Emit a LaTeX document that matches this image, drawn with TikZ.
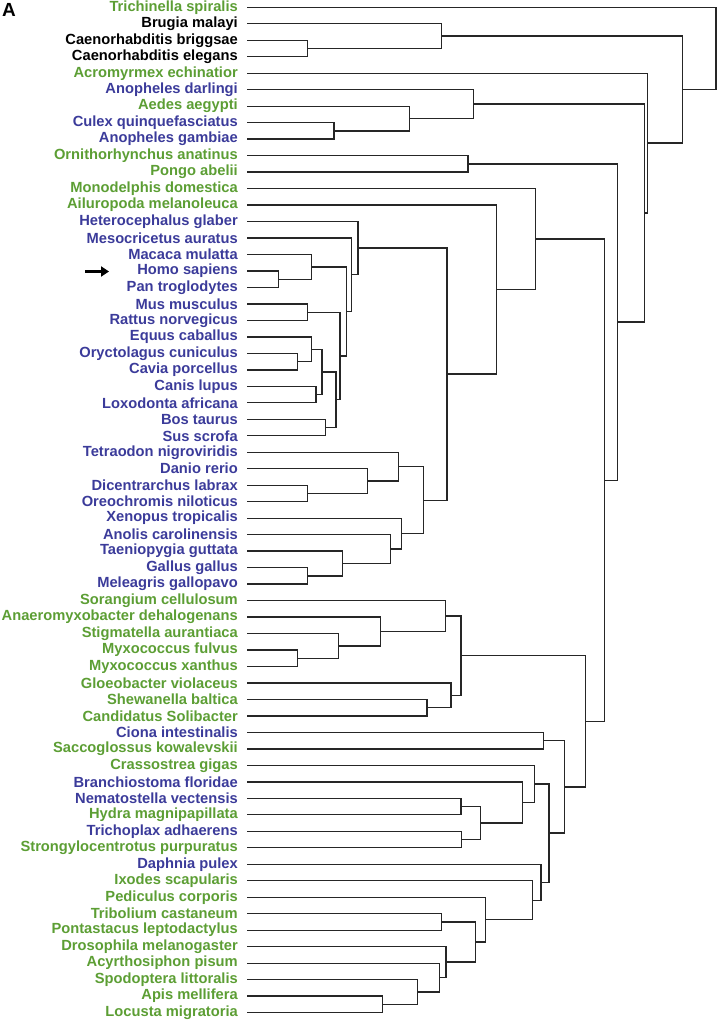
\documentclass[tikz,border=0pt]{standalone}
\usepackage{fontspec}
\setmainfont{Liberation Sans}
\usetikzlibrary{calc,arrows.meta}
\definecolor{tgreen}{RGB}{92,158,52}
\definecolor{tblue}{RGB}{59,59,154}
\begin{document}
\begin{tikzpicture}[x=1pt,y=-1pt,
  br/.style={draw=black!85,line width=1.3pt,line cap=rect},
  lab/.style={anchor=east,inner sep=0pt,font=\fontsize{14.7}{16}\selectfont\bfseries},
  G/.style={lab,text=tgreen},
  B/.style={lab,text=tblue},
  K/.style={lab,text=black}]
\useasboundingbox (0,0) rectangle (718,1022);
\newcommand\jn[4]{%
  \path let \p1=($(#3)!0.5!(#4)$) in coordinate (#1) at (#2pt,\y1);
  \draw[br] (#3) -| (#1) |- (#4);}
\newcommand\leaf[3]{%
  \coordinate (L#1) at (248,{7.3+16.48*(#1-1)});
  \node[#2] (T#1) at (238,{7.3+16.48*(#1-1)}) {#3};}
\node[font=\fontsize{19}{20}\selectfont\bfseries,anchor=north west,inner sep=0pt] (lblA) at (2,3) {A};
\leaf{1}{G}{Trichinella spiralis}
\leaf{2}{K}{Brugia malayi}
\leaf{3}{K}{Caenorhabditis briggsae}
\leaf{4}{K}{Caenorhabditis elegans}
\leaf{5}{G}{Acromyrmex echinatior}
\leaf{6}{B}{Anopheles darlingi}
\leaf{7}{G}{Aedes aegypti}
\leaf{8}{B}{Culex quinquefasciatus}
\leaf{9}{B}{Anopheles gambiae}
\leaf{10}{G}{Ornithorhynchus anatinus}
\leaf{11}{G}{Pongo abelii}
\leaf{12}{G}{Monodelphis domestica}
\leaf{13}{G}{Ailuropoda melanoleuca}
\leaf{14}{B}{Heterocephalus glaber}
\leaf{15}{B}{Mesocricetus auratus}
\leaf{16}{B}{Macaca mulatta}
\leaf{17}{B}{Homo sapiens}
\leaf{18}{B}{Pan troglodytes}
\leaf{19}{B}{Mus musculus}
\leaf{20}{B}{Rattus norvegicus}
\leaf{21}{B}{Equus caballus}
\leaf{22}{B}{Oryctolagus cuniculus}
\leaf{23}{B}{Cavia porcellus}
\leaf{24}{B}{Canis lupus}
\leaf{25}{B}{Loxodonta africana}
\leaf{26}{B}{Bos taurus}
\leaf{27}{B}{Sus scrofa}
\leaf{28}{B}{Tetraodon nigroviridis}
\leaf{29}{B}{Danio rerio}
\leaf{30}{B}{Dicentrarchus labrax}
\leaf{31}{B}{Oreochromis niloticus}
\leaf{32}{B}{Xenopus tropicalis}
\leaf{33}{B}{Anolis carolinensis}
\leaf{34}{B}{Taeniopygia guttata}
\leaf{35}{B}{Gallus gallus}
\leaf{36}{B}{Meleagris gallopavo}
\leaf{37}{G}{Sorangium cellulosum}
\leaf{38}{G}{Anaeromyxobacter dehalogenans}
\leaf{39}{G}{Stigmatella aurantiaca}
\leaf{40}{G}{Myxococcus fulvus}
\leaf{41}{G}{Myxococcus xanthus}
\leaf{42}{G}{Gloeobacter violaceus}
\leaf{43}{G}{Shewanella baltica}
\leaf{44}{G}{Candidatus Solibacter}
\leaf{45}{B}{Ciona intestinalis}
\leaf{46}{G}{Saccoglossus kowalevskii}
\leaf{47}{G}{Crassostrea gigas}
\leaf{48}{B}{Branchiostoma floridae}
\leaf{49}{B}{Nematostella vectensis}
\leaf{50}{G}{Hydra magnipapillata}
\leaf{51}{B}{Trichoplax adhaerens}
\leaf{52}{G}{Strongylocentrotus purpuratus}
\leaf{53}{B}{Daphnia pulex}
\leaf{54}{G}{Ixodes scapularis}
\leaf{55}{G}{Pediculus corporis}
\leaf{56}{G}{Tribolium castaneum}
\leaf{57}{G}{Pontastacus leptodactylus}
\leaf{58}{G}{Drosophila melanogaster}
\leaf{59}{G}{Acyrthosiphon pisum}
\leaf{60}{G}{Spodoptera littoralis}
\leaf{61}{G}{Apis mellifera}
\leaf{62}{G}{Locusta migratoria}
% nematodes
\jn{a1}{307.7}{L3}{L4}
\jn{a2}{441.7}{L2}{a1}
% mosquitoes
\jn{mq1}{334}{L8}{L9}
\jn{mq2}{409.3}{L7}{mq1}
\jn{mq3}{473.3}{L6}{mq2}
\jn{op}{468}{L10}{L11}
% mammals
\jn{hp}{278.7}{L17}{L18}
\jn{mac}{311.7}{L16}{hp}
\jn{mr}{307.3}{L19}{L20}
\jn{oc}{297.3}{L22}{L23}
\jn{eq}{311.7}{L21}{oc}
\jn{cl}{316}{L24}{L25}
\jn{eqcl}{322}{eq}{cl}
\jn{bs}{325.7}{L26}{L27}
\jn{lau}{336}{eqcl}{bs}
\jn{mrl}{340}{mr}{lau}
\jn{prim}{346.3}{mac}{mrl}
\jn{mes}{351.3}{L15}{prim}
\jn{het}{358}{L14}{mes}
% fish, amphibians, birds
\jn{do}{307.3}{L30}{L31}
\jn{dan}{367.3}{L29}{do}
\jn{tet}{398.3}{L28}{dan}
\jn{gm}{307.3}{L35}{L36}
\jn{tae}{342.7}{L34}{gm}
\jn{ano}{390.7}{L33}{tae}
\jn{xen}{401.7}{L32}{ano}
\jn{vert}{423.7}{tet}{xen}
\jn{mv}{447}{het}{vert}
\jn{ail}{496.7}{L13}{mv}
\jn{mon}{535.3}{L12}{ail}
% bacteria
\jn{mx}{297.7}{L40}{L41}
\jn{st}{338.3}{L39}{mx}
\jn{an}{380.3}{L38}{st}
\jn{so}{445.7}{L37}{an}
\jn{sc}{427}{L43}{L44}
\jn{gl}{451}{L42}{sc}
\jn{bact}{461}{so}{gl}
% invertebrates
\jn{cs}{543.3}{L45}{L46}
\jn{nh}{461}{L49}{L50}
\jn{ts}{461.3}{L51}{L52}
\jn{nt}{480.7}{nh}{ts}
\jn{brn}{522.3}{L48}{nt}
\jn{cr}{534.3}{L47}{brn}
\jn{al}{382.7}{L61}{L62}
\jn{sp}{417.3}{L60}{al}
\jn{acy}{439.3}{L59}{sp}
\jn{dr}{446}{L58}{acy}
\jn{tp}{441.3}{L56}{L57}
\jn{ar}{475.7}{tp}{dr}
\jn{pe}{485.7}{L55}{ar}
\jn{ix}{532.3}{L54}{pe}
\jn{da}{541}{L53}{ix}
\jn{cd}{549}{cr}{da}
\jn{csall}{564.3}{cs}{cd}
\jn{bi}{585.7}{bact}{csall}
% backbone
\jn{mb}{604.3}{mon}{bi}
\jn{opm}{617.7}{op}{mb}
\jn{mq}{644.3}{mq3}{opm}
\jn{acr}{647.3}{L5}{mq}
\jn{nem}{682.7}{a2}{acr}
\jn{root}{716}{L1}{nem}
% arrow
\coordinate (arS) at (85,271.5);
\coordinate (arE) at (109,271.5);
\draw[line width=3pt,-{Triangle[length=8pt,width=10pt]}] (arS) -- (arE);
\end{tikzpicture}
\end{document}
